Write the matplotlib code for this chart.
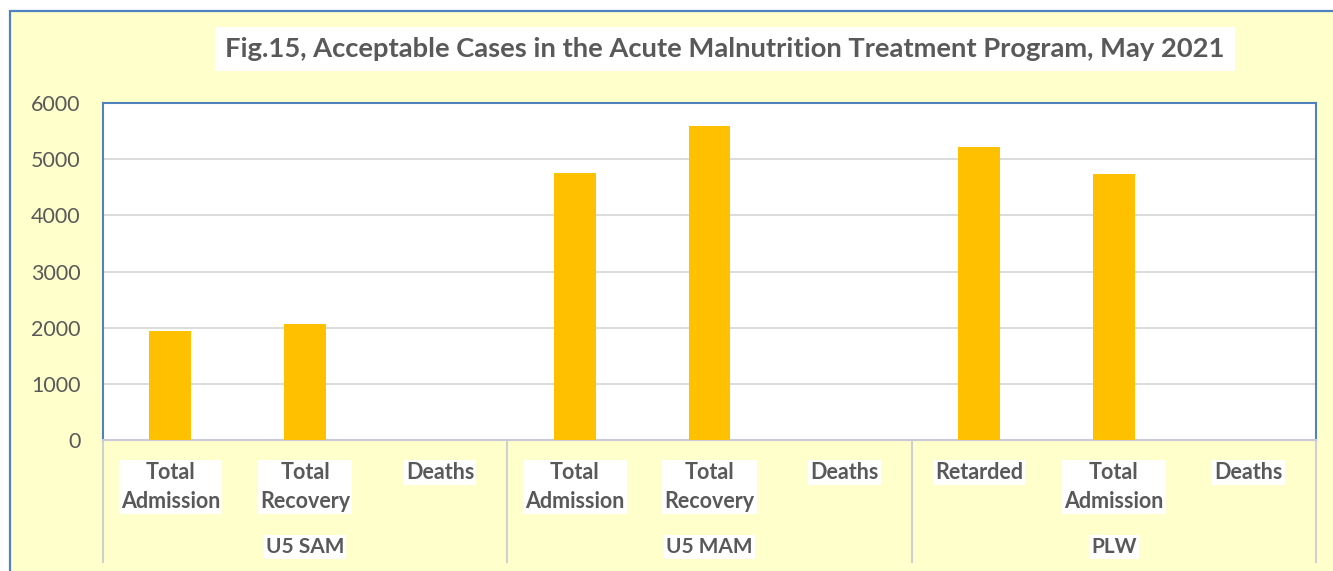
import matplotlib.pyplot as plt
from matplotlib.patches import Rectangle

plt.rcParams['font.family'] = ['Lato', 'DejaVu Sans']

# data
groups = ['U5 SAM', 'U5 MAM', 'PLW']
labels = ['Total\nAdmission', 'Total\nRecovery', 'Deaths',
          'Total\nAdmission', 'Total\nRecovery', 'Deaths',
          'Retarded', 'Total\nAdmission', 'Deaths']
values = [1940, 2065, 0, 4755, 5590, 0, 5215, 4735, 0]
yticks = [0, 1000, 2000, 3000, 4000, 5000, 6000]

W, H = 1333, 571
txt_col = '#595959'
yellow = '#FFFFCC'
blue = '#4F81BD'

fig = plt.figure(figsize=(W / 100, H / 100), dpi=100)
fig.patch.set_facecolor('white')

# chart area background with blue border
fig.patches.append(Rectangle((10 / W, -0.05), 1.2, (H - 11) / H + 0.05,
                             transform=fig.transFigure, facecolor=yellow,
                             edgecolor=blue, linewidth=1.6, zorder=-10))

ax = fig.add_axes([103 / W, (H - 440) / H, 1213 / W, 337 / H])
ax.set_zorder(2)
ax.set_facecolor('white')

x = list(range(len(values)))
ax.bar(x, values, width=0.31, color='#FFC000', zorder=3)

ax.set_xlim(-0.5, len(values) - 0.5)
ax.set_ylim(0, 6000)
ax.set_yticks(yticks)
ax.set_yticklabels([str(v) for v in yticks], fontsize=15.5, color=txt_col)
ax.tick_params(axis='y', length=0, pad=16)
ax.set_xticks([])
ax.grid(axis='y', color='#D9D9D9', linewidth=1.3, zorder=0)

for s in ['left', 'top', 'right']:
    ax.spines[s].set_color(blue)
    ax.spines[s].set_linewidth(1.5)
ax.spines['bottom'].set_color('#C9CAD9')
ax.spines['bottom'].set_linewidth(1.5)

tr = ax.get_xaxis_transform()

# category labels
for i, lab in enumerate(labels):
    ax.text(i, -0.065, lab, transform=tr, ha='center', va='top',
            fontsize=15.5, fontweight='bold', color=txt_col, linespacing=1.45,
            bbox=dict(facecolor='white', edgecolor='none', pad=1.5))

# group labels and separators
n = 3
for g, name in enumerate(groups):
    ax.text(g * n + 1, -0.318, name, transform=tr, ha='center', va='center',
            fontsize=15, fontweight='bold', color=txt_col,
            bbox=dict(facecolor='white', edgecolor='none', pad=1.5))
for b in range(len(groups) + 1):
    ax.plot([b * n - 0.5, b * n - 0.5], [0, -0.362], transform=tr,
            color='#D0D0D0', linewidth=1.5, clip_on=False)

# title
fig.text(725 / W, (H - 49) / H,
         'Fig.15, Acceptable Cases in the Acute Malnutrition Treatment Program, May 2021',
         ha='center', va='center', fontsize=19.7, fontweight='bold', color=txt_col,
         bbox=dict(facecolor='white', edgecolor='none', pad=7))

fig.savefig('out.png', dpi=100)
